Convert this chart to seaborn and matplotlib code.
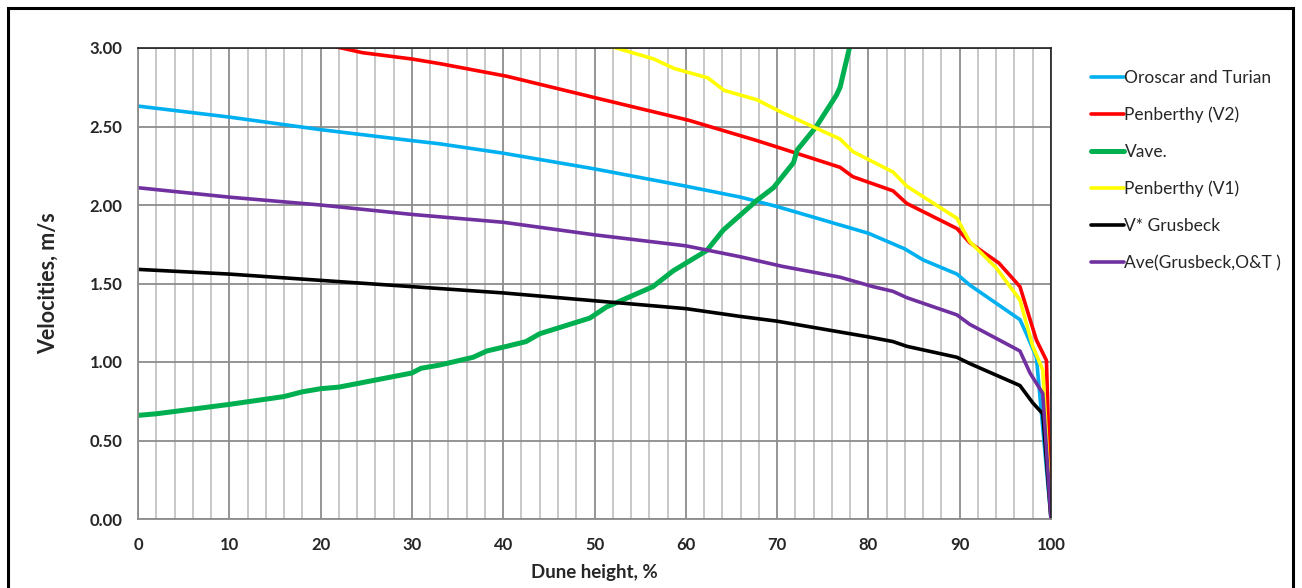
import numpy as np
import pandas as pd
import matplotlib
matplotlib.use("Agg")
import matplotlib.pyplot as plt
from matplotlib.patches import Rectangle
import seaborn as sns

# curves (dune height %, velocity m/s)
oro_x = [0, 10, 20, 30, 33, 40, 50, 60, 66, 70, 80, 84, 86, 89.7, 91.1, 96.6, 97.3, 98.4, 100]
oro_y = [2.63, 2.56, 2.48, 2.41, 2.39, 2.33, 2.23, 2.12, 2.05, 1.99, 1.82, 1.72, 1.65, 1.56, 1.49, 1.27, 1.18, 1.03, 0.0]

pen2_x = [21.5, 24.6, 30, 33.1, 40.4, 50.3, 60.3, 67.8, 70.5, 76.9, 78.3, 82.7, 84.2, 89.7, 91.1, 94.3, 96.6, 98.4, 99.5, 100]
pen2_y = [3.01, 2.97, 2.93, 2.90, 2.82, 2.68, 2.54, 2.41, 2.36, 2.24, 2.18, 2.09, 2.01, 1.85, 1.76, 1.63, 1.48, 1.14, 1.01, 0.0]

vave_x = [0, 2, 10, 16, 18, 20, 22, 30, 31, 33, 36.7, 38.2, 40.4, 42.5, 44, 49.5, 51.3, 56.4, 58.6,
          62.3, 64.1, 67.8, 69.6, 71.8, 72.2, 74.3, 76.5, 76.9, 78.0]
vave_y = [0.66, 0.67, 0.73, 0.78, 0.81, 0.83, 0.84, 0.93, 0.96, 0.98, 1.03, 1.07, 1.10, 1.13, 1.18, 1.28, 1.35, 1.48, 1.58,
          1.71, 1.84, 2.03, 2.11, 2.27, 2.35, 2.50, 2.70, 2.75, 3.02]

pen1_x = [51.8, 56.5, 58.7, 62.4, 64.2, 67.8, 70.5, 76.9, 78.3, 82.7, 84.2, 89.7, 91.1, 94, 96.6, 98, 99.1, 100]
pen1_y = [3.01, 2.93, 2.87, 2.81, 2.73, 2.67, 2.59, 2.42, 2.34, 2.21, 2.12, 1.915, 1.767, 1.60, 1.395, 1.10, 0.95, 0.0]

grus_x = [0, 10, 20, 30, 40, 50, 60, 66, 70, 80, 82.7, 84.2, 89.7, 91.1, 96.6, 98, 99.1, 100]
grus_y = [1.59, 1.56, 1.52, 1.48, 1.44, 1.39, 1.34, 1.29, 1.26, 1.16, 1.13, 1.10, 1.03, 0.99, 0.85, 0.74, 0.67, 0.0]

ave_x = [0, 10, 20, 30, 40, 50, 60, 66, 70.5, 76.9, 80.5, 82.7, 84.2, 89.7, 91.1, 96.6, 97.7, 99.1, 100]
ave_y = [2.11, 2.05, 2.00, 1.94, 1.89, 1.81, 1.74, 1.67, 1.61, 1.54, 1.48, 1.45, 1.41, 1.30, 1.24, 1.07, 0.93, 0.80, 0.0]

series = [
    ("Oroscar and Turian", oro_x, oro_y, "#00b0f0", 2.6),
    ("Penberthy (V2)", pen2_x, pen2_y, "#ff0000", 2.6),
    ("Vave.", vave_x, vave_y, "#00b050", 3.6),
    ("Penberthy (V1)", pen1_x, pen1_y, "#ffff00", 2.6),
    ("V* Grusbeck", grus_x, grus_y, "#000000", 2.6),
    ("Ave(Grusbeck,O&T )", ave_x, ave_y, "#7030a0", 2.6),
]

sns.set_style("white")
plt.rcParams['font.family'] = ['Lato', 'DejaVu Sans']

fig = plt.figure(figsize=(13.02, 5.88), dpi=100)
ax = fig.add_axes([138/1302, 69/588, (1051-138)/1302, (519-48)/588])

for name, xs, ys, col, lw in series:
    df = pd.DataFrame({"x": xs, "y": ys})
    sns.lineplot(data=df, x="x", y="y", ax=ax, color=col, linewidth=lw, label=name,
                 sort=False, estimator=None)

ax.set_xlim(0, 100)
ax.set_ylim(0, 3.0)
ax.set_xticks(np.arange(0, 101, 10))
ax.set_xticks(np.arange(0, 101, 2), minor=True)
ax.set_yticks(np.arange(0, 3.01, 0.5))
ax.set_yticklabels([f"{v:.2f}" for v in np.arange(0, 3.01, 0.5)])
ax.grid(which="major", axis="x", color="#8c8c8c", linewidth=1.3)
ax.grid(which="minor", axis="x", color="#c4c4c4", linewidth=1.3)
ax.grid(which="major", axis="y", color="#8c8c8c", linewidth=1.3)
ax.set_axisbelow(True)
ax.tick_params(axis="both", which="major", direction="out", length=5, color="#8c8c8c",
               labelsize=12)
ax.tick_params(axis="x", which="major", pad=8)
ax.tick_params(axis="y", which="major", pad=6)
ax.tick_params(axis="x", which="minor", length=0)
for lab in ax.get_xticklabels() + ax.get_yticklabels():
    lab.set_fontweight("bold")
for s in ["top", "right"]:
    ax.spines[s].set_color("#202020")
    ax.spines[s].set_linewidth(1.2)
for s in ["left", "bottom"]:
    ax.spines[s].set_color("#8c8c8c")
    ax.spines[s].set_linewidth(1.3)

ax.set_xlabel("Dune height, %", fontsize=13.5, fontweight="bold", labelpad=8)
ax.set_ylabel("Velocities, m/s", fontsize=15.5, fontweight="bold", labelpad=22)

handles, labels = ax.get_legend_handles_labels()
ax.legend_.remove()
fig.legend(handles, labels, loc="upper left", bbox_to_anchor=(1075/1302, 1 - 54/588),
           frameon=False, fontsize=12.5, handlelength=1.9, handletextpad=0.05,
           labelspacing=1.2)

fig.patches.append(Rectangle((8/1302, -0.05), (1293-8)/1302, 1.05 - 8/588,
                             transform=fig.transFigure, fill=False, edgecolor="black",
                             linewidth=2.2))

fig.savefig("out.png", dpi=100)
